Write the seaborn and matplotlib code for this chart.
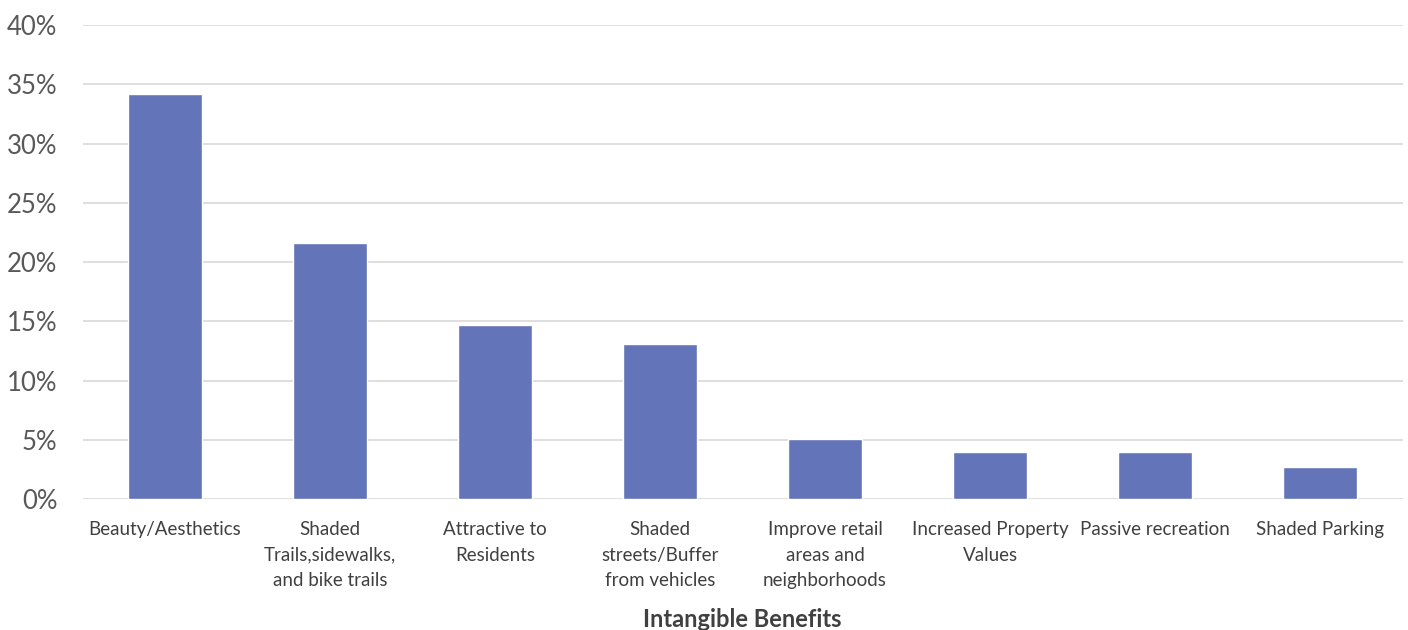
import numpy as np
import pandas as pd
import seaborn as sns
import matplotlib.pyplot as plt
from matplotlib.ticker import PercentFormatter

categories = [
    "Beauty/Aesthetics",
    "Shaded\nTrails,sidewalks,\nand bike trails",
    "Attractive to\nResidents",
    "Shaded\nstreets/Buffer\nfrom vehicles",
    "Improve retail\nareas and\nneighborhoods",
    "Increased Property\nValues",
    "Passive recreation",
    "Shaded Parking",
]
values = [34.2, 21.6, 14.7, 13.1, 5.1, 4.0, 4.0, 2.7]

df = pd.DataFrame({"benefit": categories, "share": values})

sns.set_theme(style="white")
plt.rcParams['font.family'] = ['Lato', 'DejaVu Sans']

fig = plt.figure(figsize=(14.08, 6.3), dpi=100)
ax = fig.add_axes([0.0586, 0.208, 0.9375, 0.752])

sns.barplot(data=df, x="benefit", y="share", color="#6474B8",
            width=0.45, saturation=1, ax=ax, zorder=3)

ax.set_ylim(0, 40)
ax.set_yticks(np.arange(0, 41, 5))
ax.yaxis.set_major_formatter(PercentFormatter(decimals=0))
ax.grid(axis="y", color="#d9d9d9", linewidth=1.2, zorder=0)
ax.set_axisbelow(True)
for s in ax.spines.values():
    s.set_visible(False)

ax.tick_params(axis="y", labelsize=18.5, colors="#595959", length=0, pad=18)
ax.tick_params(axis="x", labelsize=13.5, colors="#404040", length=0, pad=16)
for lbl in ax.get_xticklabels():
    lbl.set_linespacing(1.6)
ax.set_xlim(-0.5, len(categories) - 0.5)
ax.set_ylabel("")
ax.set_xlabel("Intangible Benefits", fontsize=17, fontweight="bold",
              color="#404040", labelpad=14)

fig.savefig("out.png", dpi=100)
